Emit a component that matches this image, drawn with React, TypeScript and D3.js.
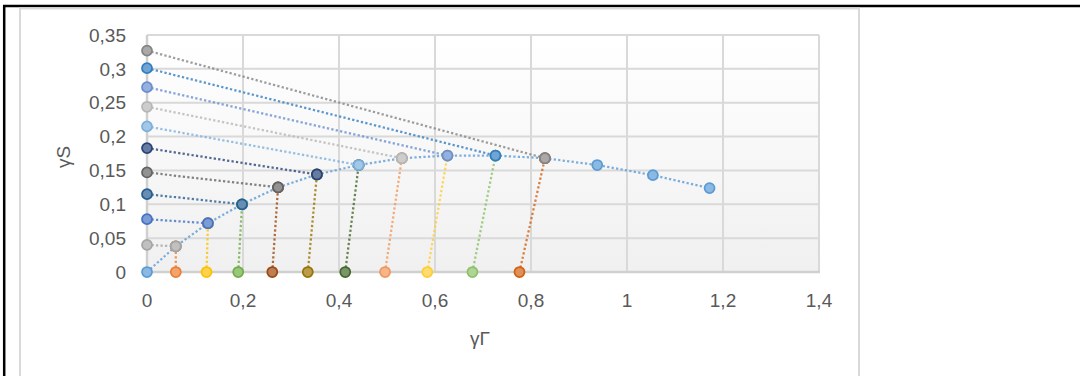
import React from "react";
import * as d3 from "d3";

// curve through the intersection points
const curveX = [0, 0.06, 0.127, 0.198, 0.273, 0.354, 0.441, 0.531, 0.626, 0.726, 0.829, 0.938, 1.054, 1.172];
const curveY = [0, 0.038, 0.072, 0.1, 0.125, 0.144, 0.158, 0.168, 0.172, 0.172, 0.168, 0.158, 0.143, 0.124];

// segments from the γS axis (x = 0) to the curve
const yStarts = [0.04, 0.078, 0.115, 0.147, 0.183, 0.215, 0.244, 0.273, 0.301, 0.327];
const yColors = ["#A5A5A5", "#4472C4", "#255E91", "#636363", "#264478", "#7CAFDD", "#B7B7B7", "#698ED0", "#327DC2", "#848484"];

// segments from the γΓ axis (y = 0) to the curve
const xStarts = [0.06, 0.124, 0.19, 0.261, 0.335, 0.413, 0.496, 0.584, 0.678, 0.776];
const xColors = ["#ED7D31", "#FFC000", "#70AD47", "#9E480E", "#997300", "#43682B", "#F1975A", "#FFCD33", "#8CC168", "#D26012"];

const curveColor = "#5B9BD5";
const xTicks = [0, 0.2, 0.4, 0.6, 0.8, 1, 1.2, 1.4];
const yTicks = [0, 0.05, 0.1, 0.15, 0.2, 0.25, 0.3, 0.35];

const W = 1080;
const H = 376;
const plot = { left: 147, right: 819, top: 35, bottom: 272 };
const font = "'Liberation Sans', Arial, sans-serif";

const loc = d3.formatLocale({ decimal: ",", thousands: " ", grouping: [3], currency: ["", ""] });
const fmt = (v: number) => loc.format("~g")(+v.toFixed(2));

export default function App() {
  const x = d3.scaleLinear().domain([0, 1.4]).range([plot.left, plot.right]);
  const y = d3.scaleLinear().domain([0, 0.35]).range([plot.bottom, plot.top]);
  const lineGen = d3
    .line<[number, number]>()
    .x((d) => x(d[0]))
    .y((d) => y(d[1]));

  const curve: [number, number][] = curveX.map((v, i) => [v, curveY[i]]);

  // series in drawing order: curve first, then x-axis / y-axis pairs interleaved
  const series: { color: string; pts: [number, number][] }[] = [{ color: curveColor, pts: curve }];
  xStarts.forEach((xs, i) => {
    series.push({ color: xColors[i], pts: [[xs, 0], curve[i + 1]] });
    series.push({ color: yColors[i], pts: [[0, yStarts[i]], curve[i + 1]] });
  });

  return (
    <svg width={W} height={H} style={{ position: "absolute", left: 0, top: 0, background: "#fff" }}>
      <defs>
        <linearGradient id="bg" x1="0" y1="0" x2="0" y2="1">
          <stop offset="0" stopColor="#ffffff" />
          <stop offset="1" stopColor="#f0f0f0" />
        </linearGradient>
      </defs>

      {/* page frame */}
      <line x1={3} x2={W} y1={6} y2={6} stroke="#000" strokeWidth={2.5} />
      <line x1={4.2} x2={4.2} y1={5} y2={H} stroke="#000" strokeWidth={2.5} />
      {/* chart frame */}
      <rect x={20} y={8.5} width={839} height={H + 10} fill="#fff" stroke="#d9d9d9" strokeWidth={2} />

      {/* plot area */}
      <rect x={plot.left} y={plot.top} width={plot.right - plot.left} height={plot.bottom - plot.top} fill="url(#bg)" />
      <g stroke="#d9d9d9" strokeWidth={2}>
        {yTicks.map((t) => (
          <line key={"gy" + t} x1={plot.left} x2={plot.right} y1={y(t)} y2={y(t)} />
        ))}
        {xTicks.map((t) => (
          <line key={"gx" + t} x1={x(t)} x2={x(t)} y1={plot.top} y2={plot.bottom} />
        ))}
      </g>
      <line x1={plot.left} x2={plot.right + 1} y1={plot.bottom} y2={plot.bottom} stroke="#d0d0d0" strokeWidth={2.5} />
      <line x1={plot.left} x2={plot.left} y1={plot.top} y2={plot.bottom} stroke="#d0d0d0" strokeWidth={2.5} />

      {/* tick labels */}
      <g fontFamily={font} fontSize={19} fill="#595959">
        {yTicks.map((t) => (
          <text key={"ty" + t} x={126} y={y(t)} dy="0.35em" textAnchor="end">
            {fmt(t)}
          </text>
        ))}
        {xTicks.map((t) => (
          <text key={"tx" + t} x={x(t)} y={307} textAnchor="middle">
            {fmt(t)}
          </text>
        ))}
      </g>
      <text x={480} y={345} fontFamily={font} fontSize={19} fill="#595959" textAnchor="middle">
        γΓ
      </text>
      <text
        transform="translate(70,157) rotate(-90)"
        fontFamily={font}
        fontSize={19}
        fill="#595959"
        textAnchor="middle"
      >
        γS
      </text>

      {/* series */}
      {series.map((s, i) => (
        <g key={"s" + i}>
          <path
            d={lineGen(s.pts) || ""}
            fill="none"
            stroke={s.color}
            strokeWidth={2.25}
            strokeDasharray="2.25,2.25"
            strokeOpacity={0.8}
          />
          {s.pts.map((p, j) => (
            <circle
              key={j}
              cx={x(p[0])}
              cy={y(p[1])}
              r={5}
              fill={d3.interpolateRgb(s.color, "#ffffff")(0.3)}
              stroke={s.color}
              strokeWidth={1.75}
            />
          ))}
        </g>
      ))}
    </svg>
  );
}
